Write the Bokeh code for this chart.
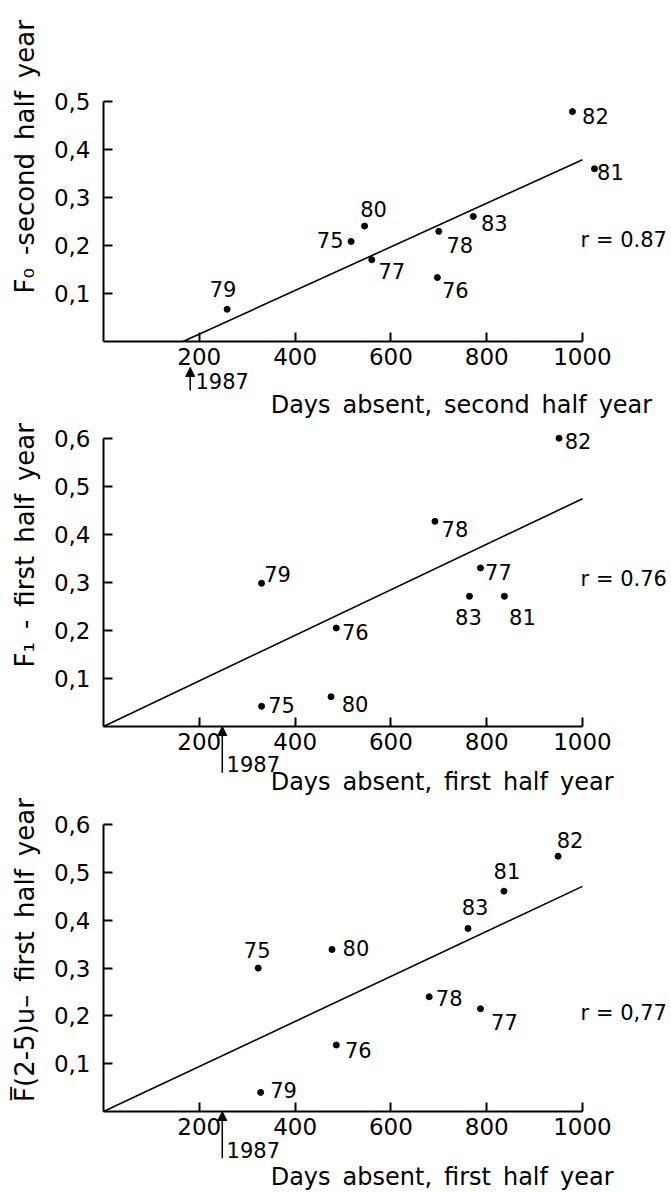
import math
from bokeh.plotting import figure
from bokeh.models import (Range1d, FixedTicker, CustomJSTickFormatter, Label,
                          Arrow, NormalHead, ColumnDataSource)
from bokeh.core.properties import value
from bokeh.layouts import column
from bokeh.embed import file_html
from bokeh.resources import INLINE

FONT = "DejaVu Sans"
SP = "\u2002"  # en space (wide word gaps as in the original lettering)

years = ["75", "76", "77", "78", "79", "80", "81", "82", "83"]

# Panel 1: F0 vs days absent, second half year
p1_days = [517, 697, 560, 700, 258, 545, 1025, 979, 772]
p1_f = [0.208, 0.133, 0.170, 0.229, 0.067, 0.240, 0.359, 0.478, 0.260]
p1_line_x = [166, 1000]
p1_line_y = [0.0, 0.378]
p1_r = "r = 0.87"
p1_ticks_y = [0.1, 0.2, 0.3, 0.4, 0.5]
p1_arrow_x = 181
p1_ylabel = "F\u2080" + SP + "-second" + SP + "half" + SP + "year"
p1_xlabel = "Days" + SP + "absent," + SP + "second" + SP + "half" + SP + "year"

# Panel 2: F1 vs days absent, first half year
p2_days = [330, 486, 787, 692, 330, 475, 837, 951, 764]
p2_f = [0.042, 0.205, 0.330, 0.427, 0.298, 0.062, 0.271, 0.600, 0.271]
p2_line_x = [0, 1000]
p2_line_y = [0.0, 0.474]
p2_r = "r = 0.76"
p2_ticks_y = [0.1, 0.2, 0.3, 0.4, 0.5, 0.6]
p2_arrow_x = 248
p2_ylabel = "F\u2081" + SP + "-" + SP + "first" + SP + "half" + SP + "year"
p2_xlabel = "Days" + SP + "absent," + SP + "first" + SP + "half" + SP + "year"

# Panel 3: mean F(2-5)u vs days absent, first half year
p3_days = [323, 486, 787, 680, 328, 477, 836, 949, 761]
p3_f = [0.300, 0.139, 0.215, 0.240, 0.040, 0.339, 0.461, 0.534, 0.383]
p3_line_x = [0, 1000]
p3_line_y = [0.0, 0.471]
p3_r = "r = 0,77"
p3_ticks_y = [0.1, 0.2, 0.3, 0.4, 0.5, 0.6]
p3_arrow_x = 248
p3_ylabel = "F\u0305(2-5)u\u2013" + SP + "first" + SP + "half" + SP + "year"
p3_xlabel = p2_xlabel

ticks_x = [200, 400, 600, 800, 1000]

# label offsets (pixels) for the year annotations
p1_dx = [-21, 18, 20, 21, -4, 9, 16, 23, 21]
p1_dy = [-1, 12, 11, 14, -20, -17, 3, 4, 7]
p2_dx = [20, 19, 18, 20, 16, 24, 18, 19, -1]
p2_dy = [-1, 4, 4, 8, -9, 7, 21, 3, 21]
p3_dx = [-1, 22, 24, 20, 23, 24, 3, 12, 7]
p3_dy = [-18, 5, 13, 1, -2, -1, -20, -16, -21]

W = 671
X_ORIGIN_PX = 103      # canvas x of days = 0
X_SCALE = 0.479        # px per day


def make_panel(height, y0_px, y_scale, days, f, dx, dy, lx, ly, rtxt,
               yticks, ylabel, ylabel_y, xlabel, xlabel_y, arrow_x,
               arrow_y0, arrow_y1, yr_label_x, yr_label_y, r_y):
    x_range = Range1d(-X_ORIGIN_PX / X_SCALE, (W - X_ORIGIN_PX) / X_SCALE)
    y_range = Range1d(-(height - y0_px) / y_scale, y0_px / y_scale)
    p = figure(width=W, height=height, output_backend="svg",
               toolbar_location=None, x_range=x_range, y_range=y_range,
               min_border_left=0, min_border_right=0, min_border_top=0,
               min_border_bottom=0)
    p.outline_line_color = None
    p.grid.visible = False
    p.background_fill_color = "white"
    p.border_fill_color = "white"

    for ax in (p.xaxis[0], p.yaxis[0]):
        ax.fixed_location = 0
        ax.axis_line_width = 2
        ax.axis_line_color = "black"
        ax.major_tick_line_width = 2
        ax.major_tick_line_color = "black"
        ax.major_tick_in = 9
        ax.major_tick_out = 0
        ax.minor_tick_line_color = None
        ax.major_label_text_font = FONT
        ax.major_label_text_font_size = "23px"
        ax.major_label_text_color = "black"
    p.xaxis.ticker = FixedTicker(ticks=ticks_x)
    p.xaxis.bounds = (0, 1000)
    p.xaxis.major_label_standoff = 6
    p.yaxis.ticker = FixedTicker(ticks=yticks)
    p.yaxis.bounds = (0, yticks[-1])
    p.yaxis.major_label_standoff = 13
    p.yaxis.formatter = CustomJSTickFormatter(
        code="return tick.toFixed(1).replace('.', ',');")

    p.line(lx, ly, line_color="black", line_width=1.6)
    src = ColumnDataSource(dict(x=days, y=f, t=years, dx=dx, dy=dy))
    p.scatter("x", "y", source=src, size=6, color="black")
    p.text("x", "y", text="t", source=src, x_offset="dx", y_offset="dy",
           text_align="center", text_baseline="middle",
           text_font=value(FONT), text_font_size="21px", text_color="black")

    p.add_layout(Label(x=996, y=r_y, text=rtxt, text_font=FONT,
                       text_font_size="21px", text_align="left",
                       text_baseline="alphabetic", text_color="black"))
    p.add_layout(Label(x=-163, y=ylabel_y, text=ylabel, angle=math.pi / 2,
                       text_font=FONT, text_font_size="26px",
                       text_align="left", text_baseline="alphabetic",
                       text_color="black"))
    p.add_layout(Label(x=349, y=xlabel_y, text=xlabel, text_font=FONT,
                       text_font_size="24px", text_align="left",
                       text_baseline="alphabetic", text_color="black"))
    p.add_layout(Arrow(end=NormalHead(size=9, fill_color="black",
                                      line_color="black"),
                       x_start=arrow_x, y_start=arrow_y0, x_end=arrow_x,
                       y_end=arrow_y1, line_width=1.5, line_color="black"))
    p.add_layout(Label(x=yr_label_x, y=yr_label_y, text="1987",
                       text_font=FONT, text_font_size="21px",
                       text_align="left", text_baseline="alphabetic",
                       text_color="black"))
    return p


p1 = make_panel(420, 341, 481, p1_days, p1_f, p1_dx, p1_dy, p1_line_x,
                p1_line_y, p1_r, p1_ticks_y, p1_ylabel, 0.1,
                p1_xlabel, -0.131,
                p1_arrow_x, -0.102, -0.054, 192, -0.083, 0.21)
p2 = make_panel(377, 306, 480.5, p2_days, p2_f, p2_dx, p2_dy, p2_line_x,
                p2_line_y, p2_r, p2_ticks_y, p2_ylabel, 0.123,
                p2_xlabel, -0.1165,
                p2_arrow_x, -0.096, 0.0, 257, -0.079, 0.306)
p3 = make_panel(393, 314, 478, p3_days, p3_f, p3_dx, p3_dy, p3_line_x,
                p3_line_y, p3_r, p3_ticks_y, p3_ylabel, 0.02,
                p3_xlabel, -0.136,
                p3_arrow_x, -0.098, 0.0, 257, -0.0795, 0.207)

layout = column(p1, p2, p3, spacing=0)
open("out.html", "w").write(file_html(layout, INLINE))
